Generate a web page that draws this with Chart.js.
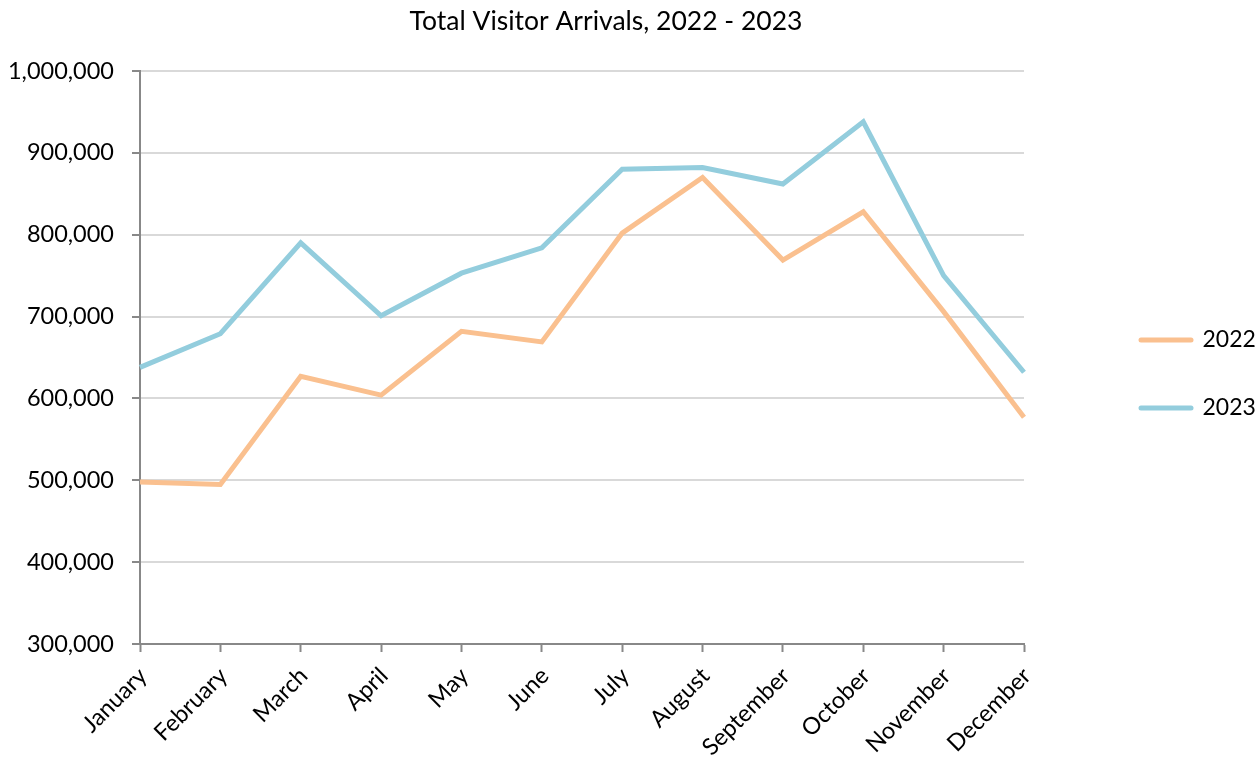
<!DOCTYPE html>
<html>
<head>
<meta charset="utf-8">
<script src="https://cdn.jsdelivr.net/npm/chart.js@4"></script>
<style>
  html, body { margin: 0; padding: 0; background: #ffffff; }
  #wrap { width: 1259px; height: 763px; }
</style>
</head>
<body>
<div id="wrap"><canvas id="c" width="1259" height="763"></canvas></div>
<script>
const TITLE = 'Total Visitor Arrivals, 2022 - 2023';
const months = ['January','February','March','April','May','June','July','August','September','October','November','December'];
const seriesNames = ['2022', '2023'];
const arrivals2022 = [498000, 495000, 627000, 604000, 682000, 669000, 802000, 870000, 769000, 828000, 706000, 577000];
const arrivals2023 = [638000, 679000, 790000, 701000, 753000, 784000, 880000, 882000, 862000, 938000, 750000, 632000];
const yTickValues = [300000, 400000, 500000, 600000, 700000, 800000, 900000, 1000000];
const yTickLabels = ['300,000', '400,000', '500,000', '600,000', '700,000', '800,000', '900,000', '1,000,000'];

const FONT = 'Lato, "Liberation Sans", sans-serif';
const AXIS = '#888888';
const LEGEND_PAD = 45;

const titlePlugin = {
  id: 'excelTitle',
  afterLayout(chart) {
    // place the legend block at the far right, vertically centred like the original
    const l = chart.legend;
    if (l) {
      const w = l.width;
      l.left = 1141 - LEGEND_PAD; l.right = l.left + w;
      l.top = 0; l.bottom = 748; l.height = 748;
    }
  },
  afterDraw(chart) {
    const ctx = chart.ctx;
    ctx.save();
    ctx.font = '26.5px ' + FONT;
    ctx.fillStyle = '#000000';
    ctx.textAlign = 'center';
    ctx.textBaseline = 'middle';
    ctx.fillText(TITLE, 606, 21);
    ctx.restore();
  }
};

new Chart(document.getElementById('c'), {
  type: 'line',
  data: {
    labels: months,
    datasets: [
      { label: seriesNames[0], data: arrivals2022, borderColor: '#FAC08F', backgroundColor: '#FAC08F',
        borderWidth: 5, pointRadius: 0, tension: 0, fill: false, borderJoinStyle: 'miter' },
      { label: seriesNames[1], data: arrivals2023, borderColor: '#93CDDD', backgroundColor: '#93CDDD',
        borderWidth: 5, pointRadius: 0, tension: 0, fill: false, borderJoinStyle: 'miter' }
    ]
  },
  options: {
    responsive: false,
    animation: false,
    layout: { padding: { left: 10, top: 71, bottom: 0, right: 0 } },
    plugins: {
      title: { display: false },
      tooltip: { enabled: false },
      legend: {
        position: 'right',
        align: 'center',
        labels: {
          usePointStyle: true,
          pointStyle: 'line',
          pointStyleWidth: 50,
          padding: LEGEND_PAD,
          color: '#000000',
          font: { family: FONT, size: 23 },
          generateLabels(chart) {
            return chart.data.datasets.map((ds, i) => ({
              text: ds.label,
              fillStyle: ds.borderColor,
              strokeStyle: ds.borderColor,
              lineWidth: 5,
              lineCap: 'round',
              pointStyle: 'line',
              hidden: false,
              datasetIndex: i,
              fontColor: '#000000'
            }));
          }
        }
      }
    },
    scales: {
      x: {
        type: 'category',
        offset: false,
        border: { display: true, color: AXIS, width: 2 },
        grid: { drawOnChartArea: false, drawTicks: true, tickLength: 8, tickColor: AXIS, tickWidth: 2 },
        ticks: { color: '#000000', font: { family: FONT, size: 23.5 }, minRotation: 45, maxRotation: 45, padding: 10, labelOffset: 3, autoSkip: false },
        afterFit(scale) { scale.height = 119; scale.paddingRight = 235; }
      },
      y: {
        min: 300000,
        max: 1000000,
        border: { display: true, color: AXIS, width: 2 },
        grid: { color: '#d9d9d9', lineWidth: 2, tickLength: 8, tickColor: AXIS, tickWidth: 2 },
        afterBuildTicks(scale) { scale.ticks = yTickValues.map(v => ({ value: v })); },
        afterFit(scale) { scale.width = 130; },
        ticks: {
          color: '#000000',
          font: { family: FONT, size: 23.5 },
          padding: 18,
          callback(value) { const i = yTickValues.indexOf(value); return i >= 0 ? yTickLabels[i] : ''; }
        }
      }
    }
  },
  plugins: [titlePlugin]
});
</script>
</body>
</html>
